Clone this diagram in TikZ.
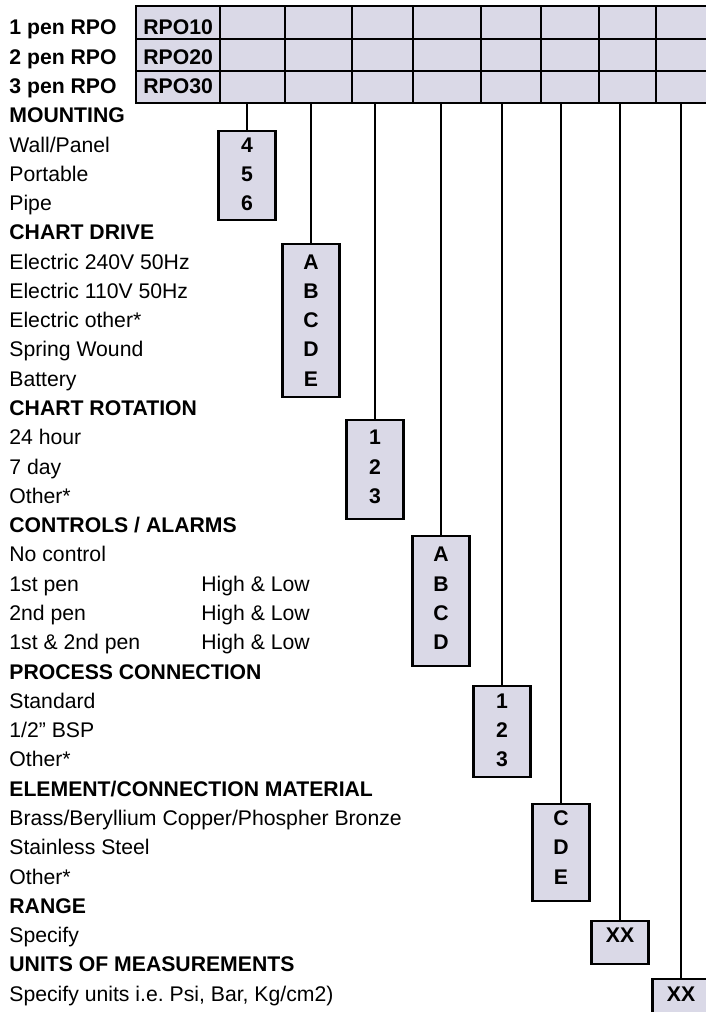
\documentclass[tikz,border=0pt]{standalone}
\usepackage{fontspec}
\setmainfont{Liberation Sans}
\usetikzlibrary{positioning}
\definecolor{cellfill}{RGB}{218,217,231}
\newcommand{\rowy}[1]{34.9+29.28*(#1-1)}
\frenchspacing

\begin{document}
\begin{tikzpicture}[x=0.5pt, y=-0.5pt,
  txt/.style = {anchor=base west, inner sep=0pt, font=\fontsize{10.6}{12}\selectfont},
  head/.style = {txt, font=\fontsize{10.6}{12}\selectfont\bfseries},
  code/.style = {anchor=base, inner sep=0pt, font=\fontsize{10.6}{12}\selectfont\bfseries},
  box/.style = {draw, line width=1.1pt, fill=cellfill, minimum width=28.5pt, anchor=north, inner sep=0pt},
  link/.style = {line width=1pt}]

\useasboundingbox (0,0) rectangle (706,1012);

% order code grid
\node[draw, line width=1pt, fill=cellfill, inner sep=0pt, anchor=north west,
      minimum width=288.5pt, minimum height=48.5pt] (grid) at (135,5) {};
\foreach \y in {39,71} \draw[link] (135,\y) -- (712,\y);
\foreach \x in {220,285,352,413,481,541,599,656} \draw[link] (\x,5) -- (\x,102);

\node[head] (c1) at (143,{\rowy{1}}) {RPO10};
\node[head] (c2) at (143,{\rowy{2}}) {RPO20};
\node[head] (c3) at (143,{\rowy{3}}) {RPO30};

% left column
\node[head] (l1) at (9,{\rowy{1}}) {1 pen RPO};
\node[head] (l2) at (9,{\rowy{2}}) {2 pen RPO};
\node[head] (l3) at (9,{\rowy{3}}) {3 pen RPO};
\node[head] (l4) at (9,{\rowy{4}}) {MOUNTING};
\node[txt] (l5) at (9,{\rowy{5}}) {Wall/Panel};
\node[txt] (l6) at (9,{\rowy{6}}) {Portable};
\node[txt] (l7) at (9,{\rowy{7}}) {Pipe};
\node[head] (l8) at (9,{\rowy{8}}) {CHART DRIVE};
\node[txt] (l9) at (9,{\rowy{9}}) {Electric 240V 50Hz};
\node[txt] (l10) at (9,{\rowy{10}}) {Electric 110V 50Hz};
\node[txt] (l11) at (9,{\rowy{11}}) {Electric other*};
\node[txt] (l12) at (9,{\rowy{12}}) {Spring Wound};
\node[txt] (l13) at (9,{\rowy{13}}) {Battery};
\node[head] (l14) at (9,{\rowy{14}}) {CHART ROTATION};
\node[txt] (l15) at (9,{\rowy{15}}) {24 hour};
\node[txt] (l16) at (9,{\rowy{16}}) {7 day};
\node[txt] (l17) at (9,{\rowy{17}}) {Other*};
\node[head] (l18) at (9,{\rowy{18}}) {CONTROLS / ALARMS};
\node[txt] (l19) at (9,{\rowy{19}}) {No control};
\node[txt] (l20) at (9,{\rowy{20}}) {1st pen};
\node[txt] (l21) at (9,{\rowy{21}}) {2nd pen};
\node[txt] (l22) at (9,{\rowy{22}}) {1st \& 2nd pen};
\node[txt] (hl20) at (201,{\rowy{20}}) {High \& Low};
\node[txt] (hl21) at (201,{\rowy{21}}) {High \& Low};
\node[txt] (hl22) at (201,{\rowy{22}}) {High \& Low};
\node[head] (l23) at (9,{\rowy{23}}) {PROCESS CONNECTION};
\node[txt] (l24) at (9,{\rowy{24}}) {Standard};
\node[txt] (l25) at (9,{\rowy{25}}) {1/2'' BSP};
\node[txt] (l26) at (9,{\rowy{26}}) {Other*};
\node[head] (l27) at (9,{\rowy{27}}) {ELEMENT/CONNECTION MATERIAL};
\node[txt] (l28) at (9,{\rowy{28}}) {Brass/Beryllium Copper/Phospher Bronze};
\node[txt] (l29) at (9,{\rowy{29}}) {Stainless Steel};
\node[txt] (l30) at (9,{\rowy{30}}) {Other*};
\node[head] (l31) at (9,{\rowy{31}}) {RANGE};
\node[txt] (l32) at (9,{\rowy{32}}) {Specify};
\node[head] (l33) at (9,{\rowy{33}}) {UNITS OF MEASUREMENTS};
\node[txt] (l34) at (9,{\rowy{34}}) {Specify units i.e. Psi, Bar, Kg/cm2)};

% option boxes
\node[box, minimum height=44.5pt] (b1) at (247,130) {};
\node[box, minimum height=76.5pt] (b2) at (311,243) {};
\node[box, minimum height=49.5pt] (b3) at (375,419) {};
\node[box, minimum height=65pt] (b4) at (441,535) {};
\node[box, minimum height=45.5pt] (b5) at (502,685) {};
\node[box, minimum height=48.5pt] (b6) at (561,803) {};
\node[box, minimum height=21.5pt] (b7) at (620,920) {};
\node[box, minimum height=21.5pt] (b8) at (681,978) {};

\node[code] (b1a) at (247,{\rowy{5}}) {4};
\node[code] (b1b) at (247,{\rowy{6}}) {5};
\node[code] (b1c) at (247,{\rowy{7}}) {6};

\node[code] (b2a) at (311,{\rowy{9}}) {A};
\node[code] (b2b) at (311,{\rowy{10}}) {B};
\node[code] (b2c) at (311,{\rowy{11}}) {C};
\node[code] (b2d) at (311,{\rowy{12}}) {D};
\node[code] (b2e) at (311,{\rowy{13}}) {E};

\node[code] (b3a) at (375,{\rowy{15}}) {1};
\node[code] (b3b) at (375,{\rowy{16}}) {2};
\node[code] (b3c) at (375,{\rowy{17}}) {3};

\node[code] (b4a) at (441,{\rowy{19}}) {A};
\node[code] (b4b) at (441,{\rowy{20}}) {B};
\node[code] (b4c) at (441,{\rowy{21}}) {C};
\node[code] (b4d) at (441,{\rowy{22}}) {D};

\node[code] (b5a) at (502,{\rowy{24}}) {1};
\node[code] (b5b) at (502,{\rowy{25}}) {2};
\node[code] (b5c) at (502,{\rowy{26}}) {3};

\node[code] (b6a) at (561,{\rowy{28}}) {C};
\node[code] (b6b) at (561,{\rowy{29}}) {D};
\node[code] (b6c) at (561,{\rowy{30}}) {E};

\node[code] (b7a) at (620,{\rowy{32}}) {XX};
\node[code] (b8a) at (681,{\rowy{34}}) {XX};

% drop lines
\draw[link] (b1 |- grid.south) -- (b1.north);
\draw[link] (b2 |- grid.south) -- (b2.north);
\draw[link] (b3 |- grid.south) -- (b3.north);
\draw[link] (b4 |- grid.south) -- (b4.north);
\draw[link] (b5 |- grid.south) -- (b5.north);
\draw[link] (b6 |- grid.south) -- (b6.north);
\draw[link] (b7 |- grid.south) -- (b7.north);
\draw[link] (b8 |- grid.south) -- (b8.north);

\end{tikzpicture}
\end{document}
